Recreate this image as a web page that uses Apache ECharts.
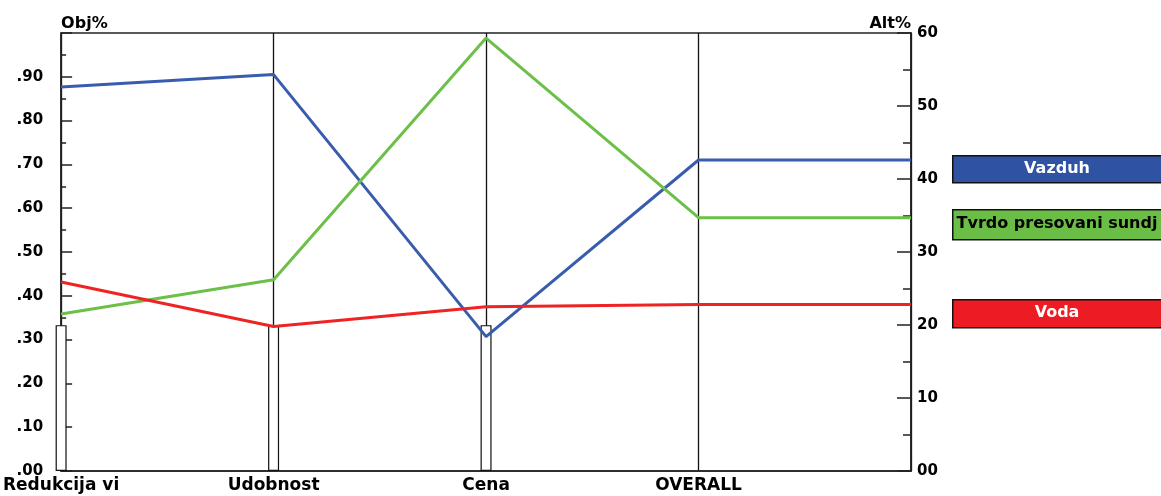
<!DOCTYPE html>
<html>
<head>
<meta charset="utf-8">
<script src="https://cdn.jsdelivr.net/npm/echarts@6/dist/echarts.min.js"></script>
<style>
  html, body { margin: 0; padding: 0; background: #fff; }
  #chart { width: 1161px; height: 496px; }
</style>
</head>
<body>
<div id="chart"></div>
<script>
// Criteria along the x axis (OVERALL is the synthesis column)
const criteria = ['Redukcija vi', 'Udobnost', 'Cena', 'OVERALL'];

// Criterion weights (Obj%, left axis)
const criterionWeights = [0.333, 0.333, 0.333];

// Alternative priorities per criterion and overall (Alt%, right axis)
const alternatives = ['Vazduh', 'Tvrdo presovani sundj', 'Voda'];
const vazduh = [52.6, 54.3, 18.4, 42.6];
const tvrdo = [21.5, 26.2, 59.3, 34.7];
const voda = [25.9, 19.8, 22.5, 22.8];

// Axis tick labels
const objTicks = ['.00', '.10', '.20', '.30', '.40', '.50', '.60', '.70', '.80', '.90', ''];
const altTicks = ['00', '10', '20', '30', '40', '50', '60'];

const lineColors = ['#3a5cae', '#6cbf48', '#ee2424'];
const boxColors = ['#2f52a3', '#6abd45', '#ed1c24'];
const boxText = ['#ffffff', '#000000', '#ffffff'];
const FONT = '"DejaVu Sans", sans-serif';

// the overall value is carried on to the right edge of the plot
function toPoints(vals) {
  const pts = vals.map((v, i) => [i, v]);
  pts.push([vals.length, vals[vals.length - 1]]);
  return pts;
}

const chart = echarts.init(document.getElementById('chart'), null, { renderer: 'canvas' });

const series = [{
  type: 'bar',
  xAxisIndex: 0,
  yAxisIndex: 0,
  barWidth: 11,
  clip: false,
  silent: true,
  z: 2,
  itemStyle: { color: '#ffffff', borderColor: '#111111', borderWidth: 1.2 },
  data: criterionWeights.map((w, i) => [i, w])
}];
[vazduh, tvrdo, voda].forEach((vals, k) => {
  series.push({
    type: 'line',
    name: alternatives[k],
    xAxisIndex: 0,
    yAxisIndex: 1,
    symbol: 'none',
    silent: true,
    z: 3 + k,
    lineStyle: { color: lineColors[k], width: 3 },
    data: toPoints(vals)
  });
});

// name boxes on the right
const boxTops = [155, 209, 299];
const boxHeights = [27, 30, 28];
const graphics = [];
alternatives.forEach((name, k) => {
  graphics.push({
    type: 'rect',
    left: 952, top: boxTops[k],
    shape: { width: 215, height: boxHeights[k] },
    style: { fill: boxColors[k], stroke: '#111', lineWidth: 1.5 },
    z: 10
  });
  graphics.push({
    type: 'text',
    x: 1057, y: boxTops[k] + boxHeights[k] / 2,
    style: {
      text: name, fill: boxText[k], font: 'bold 16px ' + FONT,
      align: 'center', verticalAlign: 'middle'
    },
    z: 11
  });
});

chart.setOption({
  animation: false,
  backgroundColor: '#ffffff',
  grid: {
    left: 61, right: 250, top: 33, bottom: 25,
    show: true, borderColor: '#222', borderWidth: 1.5, backgroundColor: 'transparent'
  },
  xAxis: {
    type: 'value', min: 0, max: criteria.length, interval: 1,
    axisLine: { show: true, lineStyle: { color: '#222', width: 1.5 } },
    axisTick: { show: false },
    splitLine: { show: true, lineStyle: { color: '#111', width: 1.3 } },
    axisLabel: {
      show: true, margin: 6, color: '#000',
      fontFamily: FONT, fontWeight: 'bold', fontSize: 17,
      formatter: v => criteria[v] || ''
    }
  },
  yAxis: [{
    type: 'value', position: 'left', min: 0, max: 1, interval: 0.1,
    name: 'Obj%', nameLocation: 'end', nameGap: 1,
    nameTextStyle: { align: 'left', verticalAlign: 'bottom', color: '#000', fontFamily: FONT, fontWeight: 'bold', fontSize: 16 },
    axisLine: { show: true, lineStyle: { color: '#222', width: 1.5 } },
    axisTick: { show: true, inside: true, length: 11, lineStyle: { color: '#222', width: 1.5 } },
    minorTick: { show: true, splitNumber: 2, length: 5, lineStyle: { color: '#222', width: 1.5 } },
    splitLine: { show: false },
    axisLabel: {
      margin: 18, color: '#000', fontFamily: FONT, fontWeight: 'bold', fontSize: 15,
      formatter: (v) => objTicks[Math.round(v * 10)]
    }
  }, {
    type: 'value', position: 'right', min: 0, max: 60, interval: 10,
    name: 'Alt%', nameLocation: 'end', nameGap: 1,
    nameTextStyle: { align: 'right', verticalAlign: 'bottom', color: '#000', fontFamily: FONT, fontWeight: 'bold', fontSize: 16 },
    axisLine: { show: true, lineStyle: { color: '#222', width: 1.5 } },
    axisTick: { show: true, inside: true, length: 14, lineStyle: { color: '#222', width: 1.5 } },
    minorTick: { show: true, splitNumber: 2, length: 8, lineStyle: { color: '#222', width: 1.5 } },
    splitLine: { show: false },
    axisLabel: {
      margin: 6, color: '#000', fontFamily: FONT, fontWeight: 'bold', fontSize: 15,
      formatter: (v) => altTicks[Math.round(v / 10)]
    }
  }],
  series: series,
  graphic: graphics
});
</script>
</body>
</html>
